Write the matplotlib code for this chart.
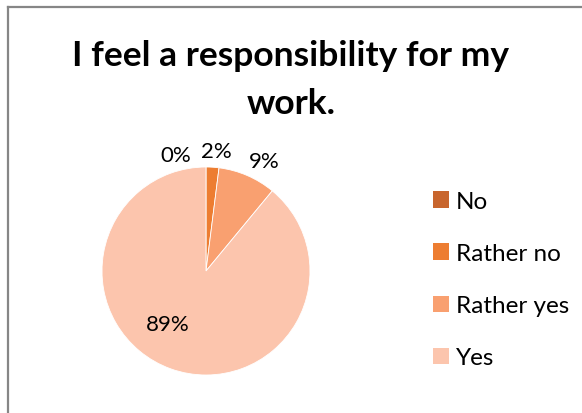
import matplotlib.pyplot as plt
from matplotlib.patches import Patch
from matplotlib.lines import Line2D

# answers to "I feel a responsibility for my work."
answers = ['No', 'Rather no', 'Rather yes', 'Yes']
shares = [0, 2, 9, 89]
colors = ['#C8652D', '#ED7D31', '#F9A070', '#FCC5AD']

plt.rcParams['font.family'] = ['Lato', 'DejaVu Sans']

fig = plt.figure(figsize=(5.82, 4.14), dpi=100)

# chart frame, only the top and left edges are inside the picture
fig.add_artist(Line2D([8 / 582, 8 / 582], [0, 1 - 8 / 414], color='#868686', lw=1.6))
fig.add_artist(Line2D([8 / 582, 1], [1 - 8 / 414, 1 - 8 / 414], color='#868686', lw=1.6))

fig.text(0.5, 1 - 66 / 414, 'I feel a responsibility for my', ha='center', va='baseline',
         fontsize=25.5, fontweight='bold')
fig.text(0.5, 1 - 114 / 414, 'work.', ha='center', va='baseline',
         fontsize=25.5, fontweight='bold')

# pie: centre (206, 272) px, radius 104 px
ax = fig.add_axes([102 / 582, (414 - 272 - 104) / 414, 208 / 582, 208 / 414])
wedges, texts, autotexts = ax.pie(shares, colors=colors, startangle=90, counterclock=False,
                                  autopct='%1.0f%%', pctdistance=1.17,
                                  wedgeprops=dict(edgecolor='white', linewidth=0.6),
                                  textprops=dict(fontsize=16))
ax.set_xlim(-1, 1)
ax.set_ylim(-1, 1)
ax.set_aspect('equal')

# move the labels where they don't collide
autotexts[0].set_position((-0.29, 1.115))
autotexts[1].set_position((0.096, 1.154))
autotexts[2].set_position((0.558, 1.058))
autotexts[3].set_position((-0.365, -0.51))

handles = [Patch(facecolor=c, edgecolor='none') for c in colors]
fig.legend(handles, answers, loc='upper left', bbox_to_anchor=(433 / 582, 1 - 192 / 414),
           frameon=False, fontsize=17.5, handlelength=0.66, handleheight=0.66,
           handletextpad=0.29, labelspacing=1.28, borderpad=0, borderaxespad=0)

fig.savefig('out.png', dpi=100)
